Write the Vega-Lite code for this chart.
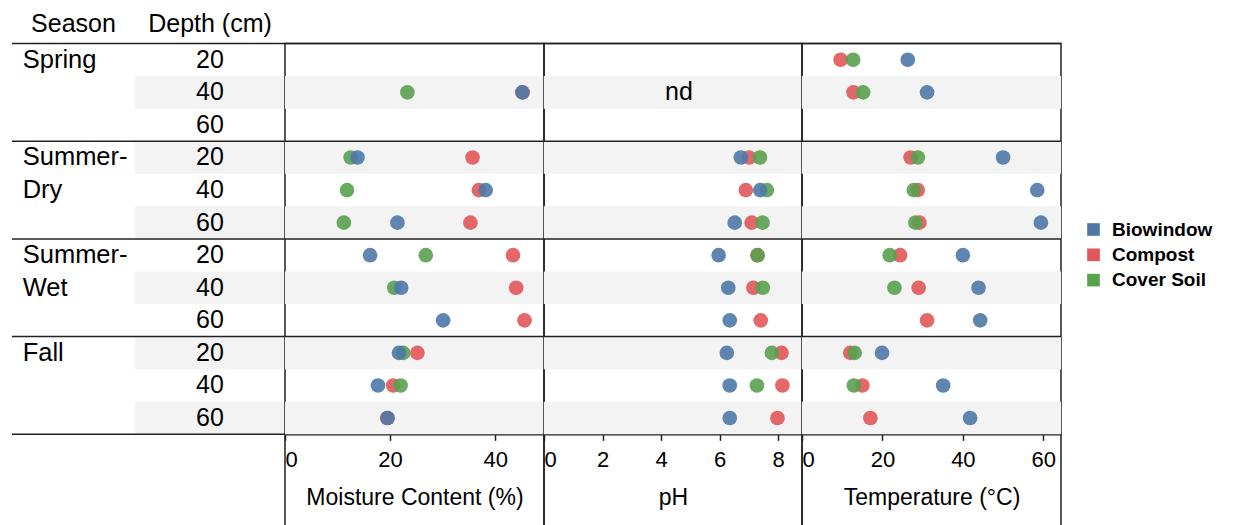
{
  "$schema": "https://vega.github.io/schema/vega-lite/v6.json",
  "padding": {"left": 11, "top": 11.5, "right": 0, "bottom": 0},
  "background": "white",
  "spacing": 0,
  "bounds": "flush",
  "config": {
    "font": "Liberation Sans",
    "view": {"stroke": "#222", "strokeWidth": 1.5},
    "axis": {
      "labelFont": "Liberation Sans", "titleFont": "Liberation Sans",
      "labelColor": "#000", "titleColor": "#000", "titleFontWeight": "normal",
      "labelFontSize": 22, "titleFontSize": 23,
      "domainColor": "#222", "domainWidth": 1.5,
      "tickColor": "#222", "tickWidth": 1.5, "tickSize": 6,
      "labelPadding": 9.5, "titlePadding": 16, "grid": false, "labelFlush": true, "zindex": 1
    },
    "title": {"font": "Liberation Sans", "fontSize": 25, "fontWeight": "normal", "color": "#000", "anchor": "middle", "frame": "group", "baseline": "alphabetic", "offset": 6},
    "legend": {
      "orient": "none", "legendX": 1072, "legendY": 176.5, "padding": 0,
      "symbolType": "square", "symbolSize": 160, "symbolStrokeWidth": 0, "symbolOpacity": 1,
      "labelFont": "Liberation Sans", "labelFontSize": 19, "labelFontWeight": "bold", "labelColor": "#000",
      "labelOffset": 9, "rowPadding": 5.3
    }
  },
  "datasets": {
    "rows": [
      {"row": 1, "season": "Spring", "depth": 20, "seasonLabel": "Spring"},
      {"row": 2, "season": "Spring", "depth": 40, "seasonLabel": ""},
      {"row": 3, "season": "Spring", "depth": 60, "seasonLabel": ""},
      {"row": 4, "season": "Summer-Dry", "depth": 20, "seasonLabel": "Summer-"},
      {"row": 5, "season": "Summer-Dry", "depth": 40, "seasonLabel": "Dry"},
      {"row": 6, "season": "Summer-Dry", "depth": 60, "seasonLabel": ""},
      {"row": 7, "season": "Summer-Wet", "depth": 20, "seasonLabel": "Summer-"},
      {"row": 8, "season": "Summer-Wet", "depth": 40, "seasonLabel": "Wet"},
      {"row": 9, "season": "Summer-Wet", "depth": 60, "seasonLabel": ""},
      {"row": 10, "season": "Fall", "depth": 20, "seasonLabel": "Fall"},
      {"row": 11, "season": "Fall", "depth": 40, "seasonLabel": ""},
      {"row": 12, "season": "Fall", "depth": 60, "seasonLabel": ""}
    ],
    "breaks": [{"row": 1}, {"row": 4}, {"row": 7}, {"row": 10}],
    "obs": [
      {"row": 1, "treatment": "Compost", "moisture": null, "ph": null, "temp": 9.6},
      {"row": 1, "treatment": "Cover Soil", "moisture": null, "ph": null, "temp": 12.7},
      {"row": 1, "treatment": "Biowindow", "moisture": null, "ph": null, "temp": 26.3},
      {"row": 2, "treatment": "Compost", "moisture": 45.2, "ph": null, "temp": 12.8},
      {"row": 2, "treatment": "Cover Soil", "moisture": 23.3, "ph": null, "temp": 15.2},
      {"row": 2, "treatment": "Biowindow", "moisture": 45.2, "ph": null, "temp": 31.1},
      {"row": 4, "treatment": "Compost", "moisture": 35.7, "ph": 7.01, "temp": 27.0},
      {"row": 4, "treatment": "Cover Soil", "moisture": 12.5, "ph": 7.38, "temp": 28.8},
      {"row": 4, "treatment": "Biowindow", "moisture": 13.8, "ph": 6.73, "temp": 50.0},
      {"row": 5, "treatment": "Compost", "moisture": 36.9, "ph": 6.90, "temp": 28.8},
      {"row": 5, "treatment": "Cover Soil", "moisture": 11.8, "ph": 7.62, "temp": 27.8},
      {"row": 5, "treatment": "Biowindow", "moisture": 38.2, "ph": 7.39, "temp": 58.5},
      {"row": 6, "treatment": "Compost", "moisture": 35.3, "ph": 7.10, "temp": 29.2},
      {"row": 6, "treatment": "Cover Soil", "moisture": 11.2, "ph": 7.47, "temp": 28.2},
      {"row": 6, "treatment": "Biowindow", "moisture": 21.4, "ph": 6.52, "temp": 59.4},
      {"row": 7, "treatment": "Compost", "moisture": 43.4, "ph": 7.30, "temp": 24.4},
      {"row": 7, "treatment": "Cover Soil", "moisture": 26.8, "ph": 7.30, "temp": 21.8},
      {"row": 7, "treatment": "Biowindow", "moisture": 16.2, "ph": 5.97, "temp": 40.0},
      {"row": 8, "treatment": "Compost", "moisture": 44.0, "ph": 7.16, "temp": 29.0},
      {"row": 8, "treatment": "Cover Soil", "moisture": 20.8, "ph": 7.48, "temp": 23.0},
      {"row": 8, "treatment": "Biowindow", "moisture": 22.1, "ph": 6.30, "temp": 43.9},
      {"row": 9, "treatment": "Compost", "moisture": 45.6, "ph": 7.41, "temp": 31.1},
      {"row": 9, "treatment": "Biowindow", "moisture": 30.1, "ph": 6.35, "temp": 44.3},
      {"row": 10, "treatment": "Compost", "moisture": 25.2, "ph": 8.12, "temp": 12.0},
      {"row": 10, "treatment": "Cover Soil", "moisture": 22.5, "ph": 7.79, "temp": 13.1},
      {"row": 10, "treatment": "Biowindow", "moisture": 21.7, "ph": 6.25, "temp": 19.9},
      {"row": 11, "treatment": "Compost", "moisture": 20.6, "ph": 8.15, "temp": 15.0},
      {"row": 11, "treatment": "Cover Soil", "moisture": 22.0, "ph": 7.28, "temp": 12.9},
      {"row": 11, "treatment": "Biowindow", "moisture": 17.7, "ph": 6.35, "temp": 35.1},
      {"row": 12, "treatment": "Compost", "moisture": 19.5, "ph": 7.98, "temp": 17.0},
      {"row": 12, "treatment": "Biowindow", "moisture": 19.5, "ph": 6.35, "temp": 41.8}
    ]
  },
  "resolve": {"scale": {"x": "independent", "y": "independent", "color": "shared"}},
  "hconcat": [
    {
      "width": 123, "height": 490,
      "view": {"stroke": null},
      "title": {"text": "Season"},
      "layer": [
        {
          "data": {"name": "breaks"},
          "mark": {"type": "rule", "color": "#222", "strokeWidth": 1.5},
          "encoding": {"y": {"field": "row", "type": "ordinal", "bandPosition": 0, "axis": null,
            "scale": {"type": "band", "domain": [1,2,3,4,5,6,7,8,9,10,11,12,13,14], "paddingInner": 0, "paddingOuter": 0.5225, "align": 0}}}
        },
        {
          "data": {"name": "rows"},
          "transform": [{"filter": "datum.row == 12"}],
          "mark": {"type": "rule", "color": "#222", "strokeWidth": 1.5},
          "encoding": {"y": {"field": "row", "type": "ordinal", "bandPosition": 1, "axis": null}}
        },
        {
          "data": {"name": "rows"},
          "mark": {"type": "text", "align": "left", "baseline": "middle", "fontSize": 25.5, "dx": -50.8, "color": "#000"},
          "encoding": {
            "y": {"field": "row", "type": "ordinal", "axis": null},
            "text": {"field": "seasonLabel"}
          }
        }
      ]
    },
    {
      "width": 150, "height": 490,
      "view": {"stroke": null},
      "title": {"text": "Depth (cm)"},
      "layer": [
        {
          "data": {"name": "rows"},
          "transform": [{"filter": "datum.row % 2 == 0"}],
          "mark": {"type": "rect", "color": "#f3f3f3"},
          "encoding": {"y": {"field": "row", "type": "ordinal", "axis": null,
            "scale": {"type": "band", "domain": [1,2,3,4,5,6,7,8,9,10,11,12,13,14], "paddingInner": 0, "paddingOuter": 0.5225, "align": 0}}}
        },
        {
          "data": {"name": "breaks"},
          "mark": {"type": "rule", "color": "#222", "strokeWidth": 1.5},
          "encoding": {"y": {"field": "row", "type": "ordinal", "bandPosition": 0, "axis": null}}
        },
        {
          "data": {"name": "rows"},
          "transform": [{"filter": "datum.row == 12"}],
          "mark": {"type": "rule", "color": "#222", "strokeWidth": 1.5},
          "encoding": {"y": {"field": "row", "type": "ordinal", "bandPosition": 1, "axis": null}}
        },
        {
          "data": {"name": "rows"},
          "mark": {"type": "text", "align": "center", "baseline": "middle", "fontSize": 25, "color": "#000"},
          "encoding": {
            "y": {"field": "row", "type": "ordinal", "axis": null},
            "text": {"field": "depth"}
          }
        }
      ]
    },
    {
      "width": 259, "height": 490,
      "layer": [
        {
          "data": {"name": "rows"},
          "transform": [{"filter": "datum.row % 2 == 0"}],
          "mark": {"type": "rect", "color": "#f3f3f3"},
          "encoding": {"y": {"field": "row", "type": "ordinal", "axis": null,
            "scale": {"type": "band", "domain": [1,2,3,4,5,6,7,8,9,10,11,12,13,14], "paddingInner": 0, "paddingOuter": 0.5225, "align": 0}}}
        },
        {
          "data": {"name": "breaks"},
          "mark": {"type": "rule", "color": "#222", "strokeWidth": 1.5},
          "encoding": {"y": {"field": "row", "type": "ordinal", "bandPosition": 0, "axis": null}}
        },
        {
          "data": {"name": "obs"},
          "transform": [{"filter": "datum.moisture != null"}],
          "mark": {"type": "circle", "size": 215, "opacity": 0.9},
          "encoding": {
            "y": {"field": "row", "type": "ordinal", "axis": null},
            "x": {"field": "moisture", "type": "quantitative", "scale": {"domain": [0, 49.3], "nice": false, "zero": false},
              "axis": {"values": [0, 20, 40], "title": "Moisture Content (%)", "offset": -99.14}},
            "color": {"field": "treatment", "type": "nominal",
              "scale": {"domain": ["Biowindow", "Compost", "Cover Soil"], "range": ["#4e79a7", "#e15759", "#59a14f"]},
              "legend": {"title": null}}
          }
        }
      ]
    },
    {
      "width": 258, "height": 490,
      "layer": [
        {
          "data": {"name": "rows"},
          "transform": [{"filter": "datum.row % 2 == 0"}],
          "mark": {"type": "rect", "color": "#f3f3f3"},
          "encoding": {"y": {"field": "row", "type": "ordinal", "axis": null,
            "scale": {"type": "band", "domain": [1,2,3,4,5,6,7,8,9,10,11,12,13,14], "paddingInner": 0, "paddingOuter": 0.5225, "align": 0}}}
        },
        {
          "data": {"name": "breaks"},
          "mark": {"type": "rule", "color": "#222", "strokeWidth": 1.5},
          "encoding": {"y": {"field": "row", "type": "ordinal", "bandPosition": 0, "axis": null}}
        },
        {
          "data": {"values": [{"row": 2, "note": "nd"}]},
          "mark": {"type": "text", "align": "center", "baseline": "middle", "fontSize": 25, "dx": 6, "color": "#000"},
          "encoding": {
            "y": {"field": "row", "type": "ordinal", "axis": null},
            "text": {"field": "note"}
          }
        },
        {
          "data": {"name": "obs"},
          "transform": [{"filter": "datum.ph != null"}],
          "mark": {"type": "circle", "size": 215, "opacity": 0.9},
          "encoding": {
            "y": {"field": "row", "type": "ordinal", "axis": null},
            "x": {"field": "ph", "type": "quantitative", "scale": {"domain": [0, 8.82], "nice": false, "zero": false},
              "axis": {"values": [0, 2, 4, 6, 8], "title": "pH", "offset": -99.14}},
            "color": {"field": "treatment", "type": "nominal",
              "scale": {"domain": ["Biowindow", "Compost", "Cover Soil"], "range": ["#4e79a7", "#e15759", "#59a14f"]},
              "legend": {"title": null}}
          }
        }
      ]
    },
    {
      "width": 259, "height": 490,
      "layer": [
        {
          "data": {"name": "rows"},
          "transform": [{"filter": "datum.row % 2 == 0"}],
          "mark": {"type": "rect", "color": "#f3f3f3"},
          "encoding": {"y": {"field": "row", "type": "ordinal", "axis": null,
            "scale": {"type": "band", "domain": [1,2,3,4,5,6,7,8,9,10,11,12,13,14], "paddingInner": 0, "paddingOuter": 0.5225, "align": 0}}}
        },
        {
          "data": {"name": "breaks"},
          "mark": {"type": "rule", "color": "#222", "strokeWidth": 1.5},
          "encoding": {"y": {"field": "row", "type": "ordinal", "bandPosition": 0, "axis": null}}
        },
        {
          "data": {"name": "obs"},
          "transform": [{"filter": "datum.temp != null"}],
          "mark": {"type": "circle", "size": 215, "opacity": 0.9},
          "encoding": {
            "y": {"field": "row", "type": "ordinal", "axis": null},
            "x": {"field": "temp", "type": "quantitative", "scale": {"domain": [0, 64.4], "nice": false, "zero": false},
              "axis": {"values": [0, 20, 40, 60], "title": "Temperature (°C)", "offset": -99.14}},
            "color": {"field": "treatment", "type": "nominal",
              "scale": {"domain": ["Biowindow", "Compost", "Cover Soil"], "range": ["#4e79a7", "#e15759", "#59a14f"]},
              "legend": {"title": null}}
          }
        }
      ]
    }
  ]
}
